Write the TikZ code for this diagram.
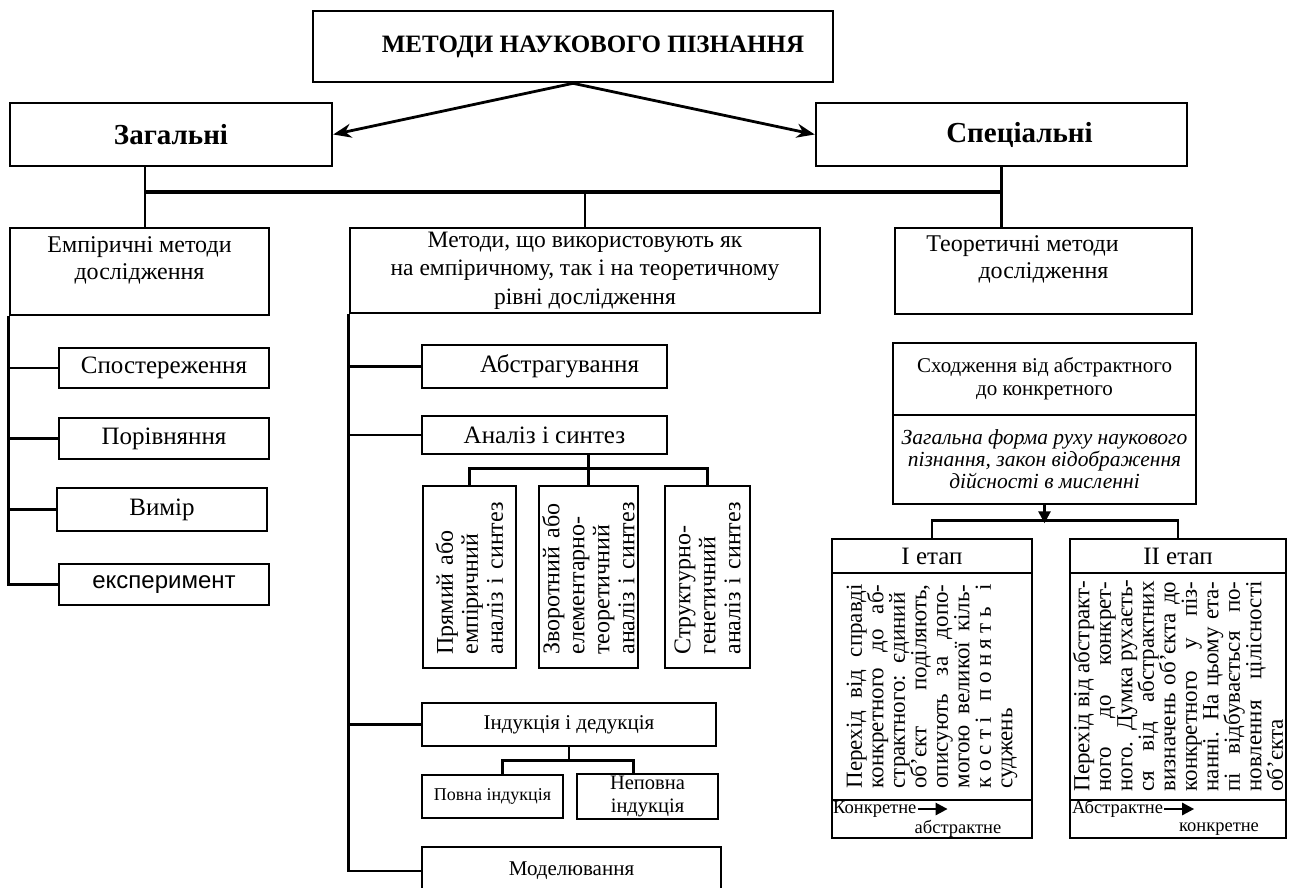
\documentclass[tikz,border=0pt]{standalone}
\usepackage{fontspec}
\setmainfont{Liberation Serif}
\newfontfamily\sansexp{Liberation Sans}
\usetikzlibrary{arrows.meta}
\newcommand\fsz[2]{\fontsize{#1}{#2}\selectfont}
\newcommand\stagefont{\fsz{23}{21.5}\lineskiplimit=-50pt\relax}
\newcommand\jl[1]{\hbox to\hsize{\spaceskip=.25em plus 1fil\relax #1}}

\begin{document}
\begin{tikzpicture}[x=1pt,y=-1pt,
  box/.style={draw,line width=2.6pt,inner sep=2pt,align=center},
  rbox/.style={box,rotate=90,align=left},
  link/.style={line width=2.6pt},
  bus/.style={line width=3.6pt},
  arr/.style={line width=2.8pt,-{Stealth[length=18pt,width=14pt]}},
  tip/.style={line width=2.6pt,-{Triangle[length=12pt,width=12pt]}}]
\fill[white] (0,0) rectangle (1290,887);
\useasboundingbox (0,0) rectangle (1290,887);
\node[box,minimum width=520,minimum height=71,font=\bfseries\fsz{25}{28}] (nauk) at (573,46.5) {\hspace*{40pt}МЕТОДИ НАУКОВОГО ПІЗНАННЯ};
\node[box,minimum width=322,minimum height=63,font=\bfseries\fsz{29}{32}] (zag) at (171,134.5) {Загальні};
\node[box,minimum width=371,minimum height=63,font=\bfseries\fsz{29}{32}] (spec) at (1001.5,134.5) {\hspace*{36pt}Спеціальні};
\node[box,minimum width=259,minimum height=87,font=\fsz{24}{27}] (emp) at (139.5,271.5) {Емпіричні методи\\дослідження\\\mbox{}};
\node[box,minimum width=470,minimum height=85,font=\fsz{23.5}{28.5}] (mid) at (585,270.5) {Методи, що використовують як\\на емпіричному, так і на теоретичному\\рівні дослідження};
\node[box,minimum width=297,minimum height=86,font=\fsz{24}{27}] (teor) at (1043.5,271) {Теоретичні методи\hspace*{42pt}\\дослідження\hspace*{42pt}\\\mbox{}};
\node[box,minimum width=210,minimum height=40,font=\fsz{25}{28}] (spost) at (164,368) {Спостереження};
\node[box,minimum width=210,minimum height=41,font=\fsz{25}{28}] (porivn) at (164,438.5) {Порівняння};
\node[box,minimum width=210,minimum height=43,font=\fsz{25}{28}] (vymir) at (162,509.5) {Вимір};
\node[box,minimum width=210,minimum height=41,font=\sansexp\fsz{24}{27}] (exper) at (164,584.5) {експеримент};
\node[box,minimum width=245,minimum height=43,font=\fsz{25}{28}] (abst) at (544.5,366.5) {\hspace*{30pt}Абстрагування};
\node[box,minimum width=245,minimum height=38,font=\fsz{25}{28}] (an) at (544.5,435) {Аналіз і синтез};
\node[rbox,minimum width=182,minimum height=93,text width=155,font=\fsz{24}{25}] (pr1) at (469.5,577) {Прямий або\\емпіричний\\аналіз і синтез};
\node[rbox,minimum width=182,minimum height=99,text width=155,font=\fsz{24}{25}] (pr2) at (588.5,577) {Зворотний або\\елементарно-\\теоретичний\\аналіз і синтез};
\node[rbox,minimum width=182,minimum height=85,text width=155,font=\fsz{24}{25}] (pr3) at (707.5,577) {Структурно-\\генетичний\\аналіз і синтез};
\node[box,minimum width=294,minimum height=43,font=\fsz{21}{24}] (ind) at (569,724.5) {Індукція і дедукція};
\node[box,minimum width=141,minimum height=43,font=\fsz{18}{21}] (povna) at (492.5,796.5) {Повна індукція};
\node[box,minimum width=141,minimum height=43,font=\fsz{20.5}{23}] (nepovna) at (647.5,796.5) {Неповна\\індукція};
\node[box,minimum width=299,minimum height=48,font=\fsz{21}{24}] (model) at (571.5,871) {Моделювання};
\node[box,minimum width=303,minimum height=72,font=\fsz{21}{23}] (shod) at (1044.5,379) {Сходження від абстрактного\\до конкретного};
\node[box,minimum width=303,minimum height=89,font=\itshape\fsz{21.5}{22}] (shodi) at (1044.5,459.5) {Загальна форма руху наукового\\пізнання, закон відображення\\дійсності в мисленні};
\node[box,minimum width=200,minimum height=34,font=\fsz{25}{28}] (et1) at (932,556) {I етап};
\node[rbox,minimum width=227,minimum height=200,text width=204,font=\stagefont] (et1t) at (932,686.5) {\vbox{\jl{Перехід від справді}\jl{конкретного до аб-}\jl{страктного: єдиний}\jl{об’єкт поділяють,}\jl{описують за допо-}\jl{могою великої кіль-}\jl{к\hfil о\hfil с\hfil т\hfil і\hfil\hfil\hfil п\hfil о\hfil н\hfil я\hfil т\hfil ь\hfil\hfil\hfil і}\hbox{суджень}}};
\node[box,minimum width=200,minimum height=38] (et1b) at (932,819) {};
\node[box,minimum width=216,minimum height=34,font=\fsz{25}{28}] (et2) at (1178,556) {II етап};
\node[rbox,minimum width=227,minimum height=216,text width=210,font=\stagefont] (et2t) at (1178,686.5) {\vbox{\jl{Перехід від абстракт-}\jl{ного до конкрет-}\jl{ного. Думка рухаєть-}\jl{ся від абстрактних}\jl{визначень об’єкта до}\jl{конкретного у піз-}\jl{нанні. На цьому ета-}\jl{пі відбувається по-}\jl{новлення цілісності}\hbox{об’єкта}}};
\node[box,minimum width=216,minimum height=38] (et2b) at (1178,819) {};
\node[right,inner sep=1pt,font=\fsz{18.5}{20}] (konk1) at (832,809) {Конкретне};
\node[inner sep=1pt,font=\fsz{18.5}{20}] (abs1) at (958,829) {абстрактне};
\node[right,inner sep=1pt,font=\fsz{18.5}{20}] (abs2) at (1071,809) {Абстрактне};
\node[inner sep=1pt,font=\fsz{18.5}{20}] (konk2) at (1219,829) {конкретне};
\draw[tip] (konk1.east) -- ++(30,0);
\draw[tip] (abs2.east) -- ++(30,0);
\coordinate (jl) at (145,192);
\draw[link] (zag.south -| jl) -- (emp.north -| jl);
\draw[link] (spec.south) -- (spec.south |- teor.north);
\draw[bus] (jl) -- (jl -| spec.south);
\draw[link] (jl -| mid.north) -- (mid.north);
\draw[arr] (nauk.south) -- (zag.east);
\draw[arr] (nauk.south) -- (spec.west);
\draw[link] (emp.south west) |- (exper.west);
\foreach \n in {spost,porivn,vymir} {\draw[link] (emp.west |- \n.west) -- (\n.west);}
\draw[link] (mid.south west) |- (model.west);
\foreach \n in {abst,an,ind} {\draw[link] (mid.west |- \n.west) -- (\n.west);}
\path (an.south -| pr2.east) ++(0,13) coordinate (anbus);
\draw[link] (an.south -| pr2.east) -- (pr2.east);
\draw[link] (pr1.east) |- (anbus) -| (pr3.east);
\path (ind.south) ++(0,13) coordinate (indbus);
\draw[link] (ind.south) -- (indbus);
\draw[link] ([xshift=10pt]povna.north) |- (indbus) -| ([xshift=-14pt]nepovna.north);
\draw[tip] (shodi.south) -- ++(0,18);
\draw[link] (et1.north) -- ++(0,-17) -| (et2.north);
\end{tikzpicture}
\end{document}
